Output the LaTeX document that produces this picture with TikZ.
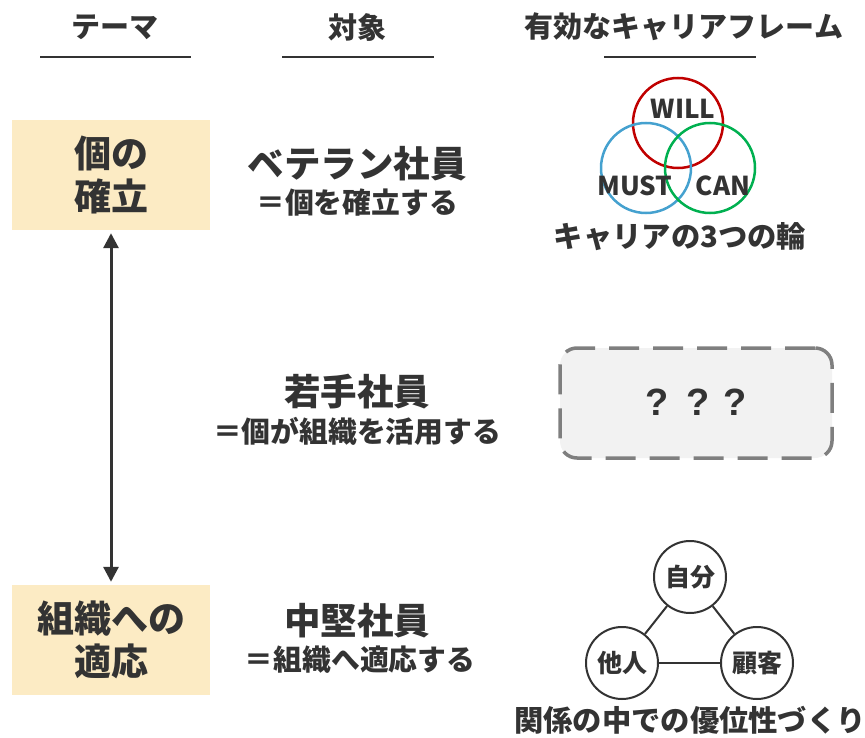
\documentclass[tikz,border=0pt]{standalone}
\usepackage{fontspec}
\setmainfont{Noto Sans CJK JP}
\newfontfamily\qfont{Liberation Sans}
\usetikzlibrary{arrows.meta}
\definecolor{txt}{HTML}{333333}
\definecolor{boxfill}{HTML}{FCEBC4}
\definecolor{willc}{HTML}{C00000}
\definecolor{mustc}{HTML}{45A1CF}
\definecolor{canc}{HTML}{00B050}
\definecolor{dashfill}{HTML}{F2F2F2}
\definecolor{dashline}{HTML}{7F7F7F}
\begin{document}
\begin{tikzpicture}[x=1pt,y=-1pt,
  every node/.style={text=txt, inner sep=0pt},
  hdr/.style={font=\fontsize{29}{34}\selectfont\bfseries},
  hdrline/.style={draw=txt, line width=2pt},
  themebox/.style={fill=boxfill, minimum width=198pt, minimum height=110pt, align=center, font=\fontsize{37}{43}\selectfont\bfseries},
  bigtxt/.style={font=\fontsize{36.5}{42}\selectfont\bfseries},
  subtxt/.style={font=\fontsize{28.8}{32}\selectfont\bfseries},
  venn/.style={circle, minimum size=90pt, line width=2.5pt},
  vennlbl/.style={font=\fontsize{26}{30}\selectfont\bfseries},
  caption/.style={font=\fontsize{29.3}{34}\selectfont\bfseries},
  relcirc/.style={circle, draw=txt, line width=2pt, minimum size=72pt, font=\fontsize{25}{30}\selectfont\bfseries},
  relline/.style={draw=txt, line width=2pt},
  qbox/.style={draw=dashline, fill=dashfill, line width=3.5pt, dash pattern=on 30pt off 14pt, rounded corners=17pt, minimum width=272pt, minimum height=110pt},
  qtxt/.style={font=\qfont\fontsize{38}{44}\selectfont\bfseries}
]
\useasboundingbox (0,0) rectangle (865,738);

% headers
\node[hdr] (h1) at (115,27) {テーマ};
\node[hdr] (h2) at (357,27) {対象};
\node[hdr] (h3) at (684,27) {有効なキャリアフレーム};
\coordinate (l1a) at (40,57); \coordinate (l1b) at (191,57);
\coordinate (l2a) at (282,57); \coordinate (l2b) at (434,57);
\coordinate (l3a) at (604,57); \coordinate (l3b) at (756,57);
\draw[hdrline] (l1a) -- (l1b);
\draw[hdrline] (l2a) -- (l2b);
\draw[hdrline] (l3a) -- (l3b);

% theme boxes
\node[themebox] (t1) at (111,175) {個の\\確立};
\node[themebox] (t2) at (111,640) {組織への\\適応};
\draw[txt, line width=3pt, {Triangle[width=15pt,length=15pt]}-{Triangle[width=15pt,length=15pt]}, shorten <=3pt, shorten >=3pt] (t1.south) -- (t2.north);

% targets
\node[bigtxt] (v1) at (357,164) {ベテラン社員};
\node[subtxt] (v2) at (357,203) {＝個を確立する};
\node[bigtxt] (y1) at (357,392) {若手社員};
\node[subtxt] (y2) at (357,431) {＝個が組織を活用する};
\node[bigtxt] (m1) at (357,621) {中堅社員};
\node[subtxt] (m2) at (360,660) {＝組織へ適応する};

% venn
\node[venn, draw=willc] (cw) at (678,123) {};
\node[venn, draw=mustc] (cm) at (646,168) {};
\node[venn, draw=canc] (cc) at (710,168) {};
\node[vennlbl] (lw) at (683,109) {WILL};
\node[vennlbl] (lm) at (635,186) {MUST};
\node[vennlbl] (lc) at (723,186) {CAN};
\node[caption] (cap1) at (680,237) {キャリアの3つの輪};

% question box
\node[qbox] (qb) at (696,403) {};
\node[qtxt] (q1) at (657,402) {?};
\node[qtxt] (q2) at (698,402) {?};
\node[qtxt] (q3) at (735,402) {?};

% relation triangle
\node[relcirc] (jb) at (690,577) {自分};
\node[relcirc] (tn) at (622,663) {他人};
\node[relcirc] (kk) at (757,663) {顧客};
\draw[relline] (jb) -- (tn);
\draw[relline] (jb) -- (kk);
\draw[relline] (tn) -- (kk);
\node[caption] (cap2) at (690,720) {関係の中での優位性づくり};
\end{tikzpicture}
\end{document}
